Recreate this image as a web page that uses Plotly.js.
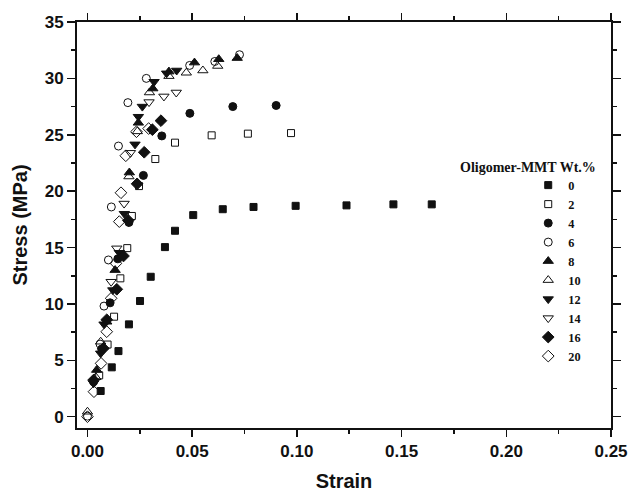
<!DOCTYPE html>
<html><head><meta charset="utf-8">
<script src="https://cdn.plot.ly/plotly-3.0.1.min.js"></script>
<style>html,body{margin:0;padding:0;background:#fff}#chart{width:630px;height:492px}</style>
</head><body><div id="chart"></div>
<script>
// Oligomer-MMT wt.% series labels
const seriesNames = ['0','2','4','6','8','10','12','14','16','20'];

const strain_0 = [0.0063,0.0116,0.0148,0.0198,0.0251,0.0302,0.0370,0.0418,0.0505,0.0646,0.0793,0.0994,0.1237,0.1461,0.1644];
const stress_0 = [2.28,4.38,5.82,8.19,10.26,12.41,15.04,16.49,17.88,18.40,18.60,18.70,18.74,18.83,18.83];

const strain_2 = [0.0056,0.0096,0.0127,0.0157,0.0190,0.0212,0.0246,0.0324,0.0418,0.0593,0.0766,0.0972];
const stress_2 = [3.67,6.40,8.87,12.27,14.95,17.80,20.45,22.85,24.30,24.95,25.10,25.15];

const strain_4 = [0.0029,0.0068,0.0108,0.0145,0.0198,0.0267,0.0355,0.0489,0.0694,0.0901];
const stress_4 = [3.10,6.00,10.10,14.00,17.23,21.40,24.90,26.90,27.50,27.60];

const strain_6 = [0.0000,0.0060,0.0079,0.0100,0.0114,0.0148,0.0193,0.0281,0.0488,0.0608,0.0726];
const stress_6 = [0.05,6.44,9.81,13.90,18.60,24.00,27.85,30.00,31.15,31.50,32.10];

const strain_8 = [0.0044,0.0092,0.0132,0.0200,0.0243,0.0312,0.0389,0.0511,0.0627,0.0715];
const stress_8 = [4.14,8.42,13.00,21.65,26.06,29.10,30.60,31.40,31.70,31.80];

const strain_10 = [0.0000,0.0040,0.0063,0.0198,0.0238,0.0296,0.0389,0.0472,0.0551,0.0622];
const stress_10 = [0.44,3.50,6.65,21.30,25.30,28.75,30.20,30.50,30.70,31.10];

const strain_12 = [0.0029,0.0063,0.0079,0.0121,0.0152,0.0176,0.0227,0.0243,0.0262,0.0318,0.0378,0.0426];
const stress_12 = [2.96,5.62,8.20,11.23,14.54,18.00,24.15,26.60,27.50,29.70,30.45,30.70];

const strain_14 = [0.0113,0.0140,0.0175,0.0205,0.0294,0.0365,0.0424];
const stress_14 = [11.97,14.93,18.90,23.40,27.90,28.40,28.75];

const strain_16 = [0.0029,0.0076,0.0092,0.0140,0.0172,0.0195,0.0237,0.0271,0.0310,0.0351];
const stress_16 = [3.25,6.06,8.60,11.30,14.25,17.40,20.65,23.45,25.45,26.25];

const strain_20 = [0.0000,0.0031,0.0065,0.0092,0.0113,0.0136,0.0152,0.0160,0.0183,0.0234,0.0292];
const stress_20 = [0.00,2.22,4.73,7.54,10.50,13.60,17.30,19.86,23.14,25.27,25.55];

const strains = [strain_0,strain_2,strain_4,strain_6,strain_8,strain_10,strain_12,strain_14,strain_16,strain_20];
const stresses = [stress_0,stress_2,stress_4,stress_6,stress_8,stress_10,stress_12,stress_14,stress_16,stress_20];

const symbols = ['square','square-open','circle','circle-open','triangle-up','triangle-up-open','triangle-down','triangle-down-open','diamond','diamond-open'];
const sizes = [7,7,8,8,9,9,9,9,9,9];

const traces = seriesNames.map((n,i)=>({
  type:'scatter', mode:'markers', name:n,
  x:strains[i], y:stresses[i],
  marker:{symbol:symbols[i], size:sizes[i], color:'#111', line:{color:'#111', width:1}}
}));

const tickFont = {family:'Liberation Sans, Arial, sans-serif', size:17, color:'#111', weight:'bold'};
const titleFont = {family:'Liberation Sans, Arial, sans-serif', size:20, color:'#111', weight:'bold'};

const layout = {
  width:630, height:492,
  margin:{l:77, r:19, t:22, b:64},
  paper_bgcolor:'#fff', plot_bgcolor:'#fff',
  showlegend:true,
  xaxis:{
    range:[-0.005,0.25], tick0:0, dtick:0.05, tickformat:'.2f',
    ticks:'outside', ticklen:7, tickwidth:1.5, tickcolor:'#111',
    linewidth:2, linecolor:'#111', mirror:'ticks',
    showgrid:false, zeroline:false,
    minor:{dtick:0.025, ticks:'outside', ticklen:4, tickwidth:1.5, tickcolor:'#111', showgrid:false},
    tickfont:tickFont,
    title:{text:'Strain', font:titleFont, standoff:15},
    automargin:false
  },
  yaxis:{
    range:[-1,35], tick0:0, dtick:5,
    ticks:'outside', ticklen:8, tickwidth:1.5, tickcolor:'#111',
    linewidth:2, linecolor:'#111', mirror:'ticks',
    showgrid:false, zeroline:false,
    minor:{dtick:2.5, ticks:'outside', ticklen:4, tickwidth:1.5, tickcolor:'#111', showgrid:false},
    tickfont:tickFont,
    title:{text:'Stress (MPa)', font:titleFont, standoff:12},
    automargin:false
  },
  legend:{
    x:0.845, y:0.634, xanchor:'left', yanchor:'top',
    bgcolor:'rgba(0,0,0,0)', borderwidth:0,
    font:{family:'Liberation Serif, Times New Roman, serif', size:12.3, color:'#111', weight:'bold'}
  },
  annotations:[{
    text:'Oligomer-MMT Wt.%', xref:'paper', yref:'paper', x:0.845, y:0.642,
    xanchor:'center', yanchor:'middle', showarrow:false,
    font:{family:'Liberation Serif, Times New Roman, serif', size:14, color:'#111', weight:'bold'}
  }]
};

Plotly.newPlot('chart', traces, layout, {staticPlot:true, displayModeBar:false});
</script></body></html>
